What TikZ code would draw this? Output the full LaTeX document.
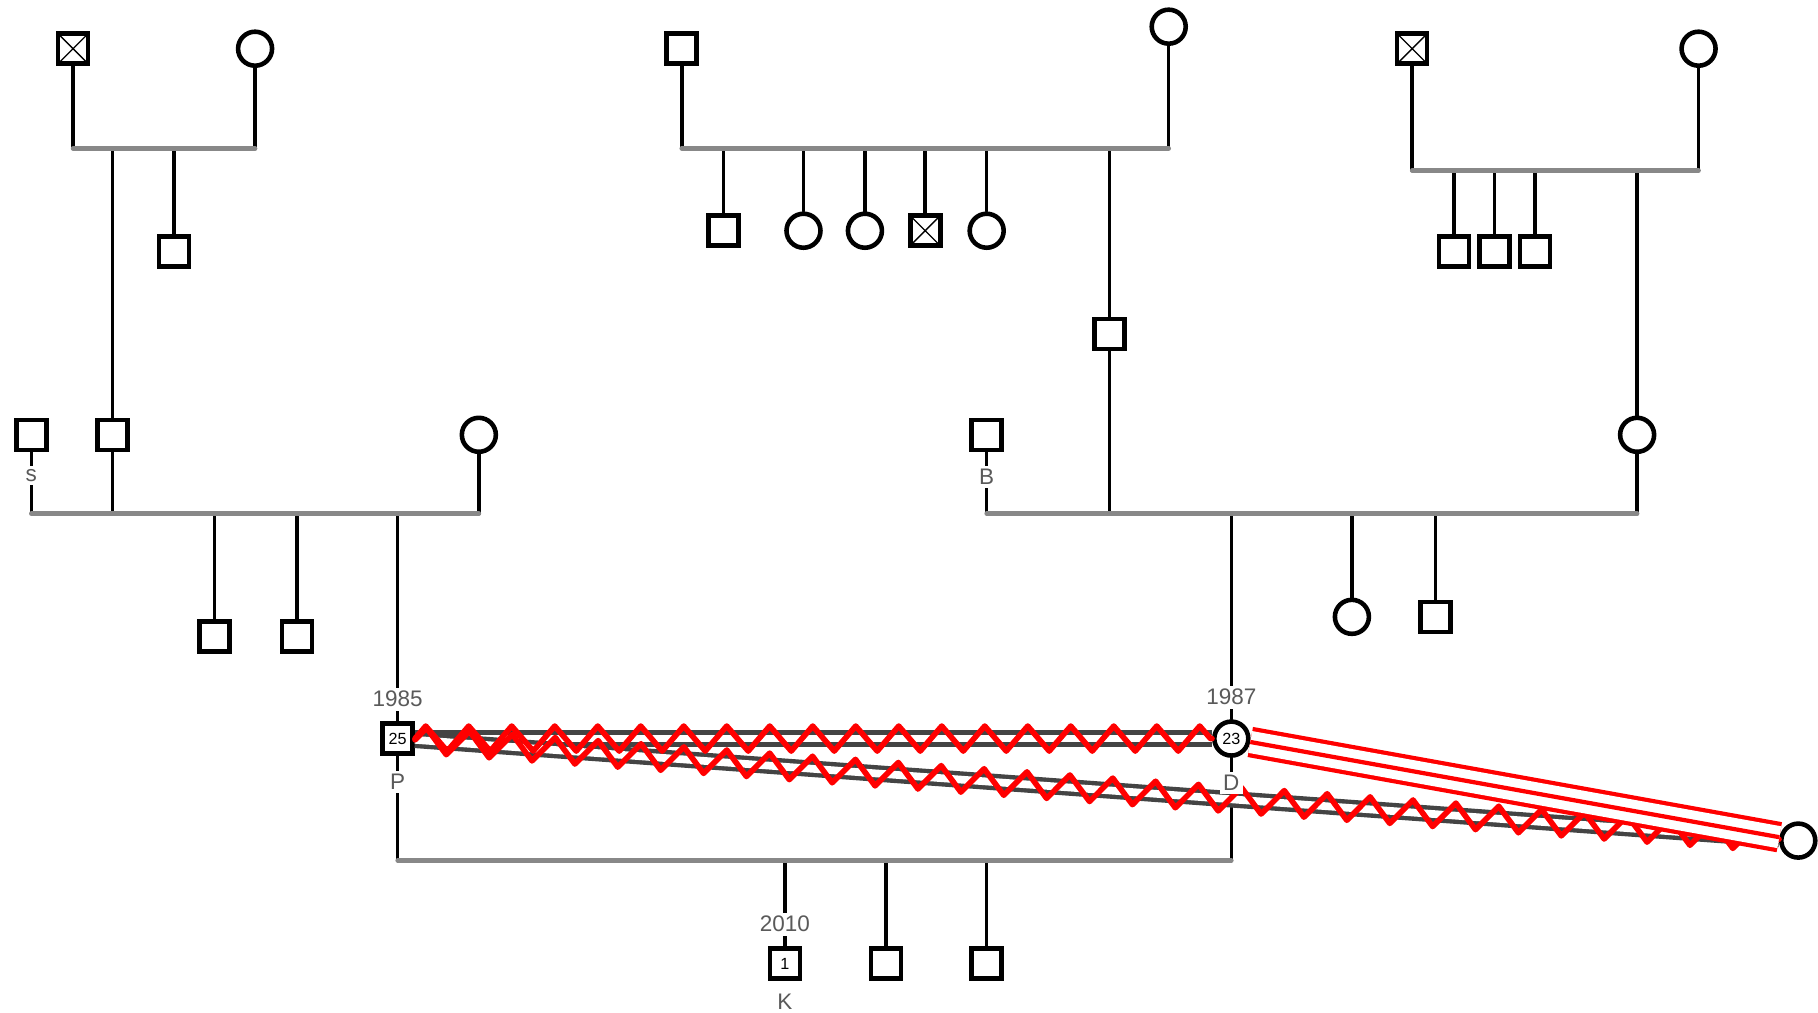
\documentclass[tikz,border=0pt]{standalone}
\usepackage{fontspec}
\setsansfont{Liberation Sans}
\usepackage{xcolor}
\usetikzlibrary{positioning,decorations.pathmorphing}

\definecolor{lblgray}{RGB}{90,90,90}
\definecolor{uniongray}{RGB}{136,136,136}
\definecolor{bondgray}{RGB}{68,68,68}

\begin{document}
\begin{tikzpicture}[x=1.1594mm,y=-1.1594mm,line cap=round,font=\sffamily,
  male/.style={draw,line width=1.3pt,fill=white,minimum size=3mm,inner sep=0pt},
  female/.style={male,circle,minimum size=3.4mm},
  dead/.style={path picture={\draw[line width=0.4pt]
    (path picture bounding box.north west) -- (path picture bounding box.south east)
    (path picture bounding box.north east) -- (path picture bounding box.south west);}},
  kin/.style={line width=1pt},
  union/.style={uniongray,line width=1.3pt},
  tag/.style={fill=white,inner sep=1pt,text=lblgray,font=\sffamily\fontsize{6.4}{7}\selectfont},
  age/.style={font=\sffamily\fontsize{4.6}{5}\selectfont},
  bondline/.style={bondgray,line width=1.25pt,line cap=butt,double=white,double distance=2.2pt},
  conflictline/.style={red,line width=1.6pt,line join=round,decorate,
    decoration={zigzag,segment length=4.3mm,amplitude=1.25mm}},
  fusedline/.style={red,line width=1.2pt,line cap=butt}]
\useasboundingbox (0,0) rectangle (156.8,87.3);

% grandparents, left
\node[male,dead] (gfA) at (6.3,4.2) {};
\node[female] (gmA) at (22,4.2) {};
\coordinate (mA) at (0,12.8);
\node[male] (a1) at (15,21.7) {};
\node[male] (fP) at (9.7,37.5) {};

% grandparents, middle
\node[male] (gfB) at (58.8,4.2) {};
\node[female] (gmB) at (100.8,2.3) {};
\coordinate (mB) at (0,12.8);
\node[male] (b1) at (62.4,19.9) {};
\node[female] (b2) at (69.3,19.9) {};
\node[female] (b3) at (74.6,19.9) {};
\node[male,dead] (b4) at (79.8,19.9) {};
\node[female] (b5) at (85.1,19.9) {};
\node[male] (fD) at (95.7,28.8) {};

% grandparents, right
\node[male,dead] (gfC) at (121.8,4.2) {};
\node[female] (gmC) at (146.5,4.2) {};
\coordinate (mC) at (0,14.7);
\node[male] (c1) at (125.4,21.7) {};
\node[male] (c2) at (128.9,21.7) {};
\node[male] (c3) at (132.4,21.7) {};
\node[female] (mD) at (141.2,37.5) {};

% parents of P
\node[male] (s) at (2.7,37.5) {};
\node[female] (mP) at (41.3,37.5) {};
\coordinate (mL) at (0,44.3);
\node[male] (p1) at (18.5,54.9) {};
\node[male] (p2) at (25.6,54.9) {};
\node[male,age] (P) at (34.3,63.7) {25};

% parents of D
\node[male] (B) at (85.1,37.5) {};
\coordinate (mR) at (0,44.3);
\node[female,age] (D) at (106.2,63.7) {23};
\node[female] (d1) at (116.6,53.2) {};
\node[male] (d2) at (123.8,53.2) {};

% P and D, children
\coordinate (mPD) at (0,74.2);
\node[male,age] (K) at (67.7,83.1) {1};
\node[male] (k2) at (76.4,83.1) {};
\node[male] (k3) at (85.1,83.1) {};
\node[female] (X) at (155.1,72.5) {};

\foreach \n in {gfA,gmA} \draw[kin] (\n) -- (\n|-mA);
\foreach \n in {a1,fP} \draw[kin] (\n|-mA) -- (\n);
\foreach \n in {gfB,gmB} \draw[kin] (\n) -- (\n|-mB);
\foreach \n in {b1,b2,b3,b4,b5,fD} \draw[kin] (\n|-mB) -- (\n);
\foreach \n in {gfC,gmC} \draw[kin] (\n) -- (\n|-mC);
\foreach \n in {c1,c2,c3,mD} \draw[kin] (\n|-mC) -- (\n);
\foreach \n in {s,fP,mP} \draw[kin] (\n) -- (\n|-mL);
\foreach \n in {p1,p2,P} \draw[kin] (\n|-mL) -- (\n);
\foreach \n in {B,fD,mD} \draw[kin] (\n) -- (\n|-mR);
\foreach \n in {D,d1,d2} \draw[kin] (\n|-mR) -- (\n);
\foreach \n in {P,D} \draw[kin] (\n) -- (\n|-mPD);
\foreach \n in {K,k2,k3} \draw[kin] (\n|-mPD) -- (\n);

\draw[union] (gfA|-mA) -- (gmA|-mA);
\draw[union] (gfB|-mB) -- (gmB|-mB);
\draw[union] (gfC|-mC) -- (gmC|-mC);
\draw[union] (s|-mL) -- (mP|-mL);
\draw[union] (B|-mR) -- (mD|-mR);
\draw[union] (P|-mPD) -- (D|-mPD);

\draw[bondline] (P) -- (D);
\draw[bondline] (P) -- (X);
\draw[conflictline] (P) -- (D);
\draw[conflictline] (P) -- (X);
\draw[fusedline,double=white,double distance=6.3pt] (D) -- (X);
\draw[fusedline] (D) -- (X);

\node[tag,below=1.3mm of s] {s};
\node[tag,below=1.3mm of B] {B};
\node[tag,above=1mm of P] {1985};
\node[tag,below=1.4mm of P] {P};
\node[tag,above=1mm of D] {1987};
\node[tag,below=1.3mm of D] {D};
\node[tag,above=1mm of K] {2010};
\node[tag,below=0.9mm of K] {K};
\end{tikzpicture}
\end{document}
